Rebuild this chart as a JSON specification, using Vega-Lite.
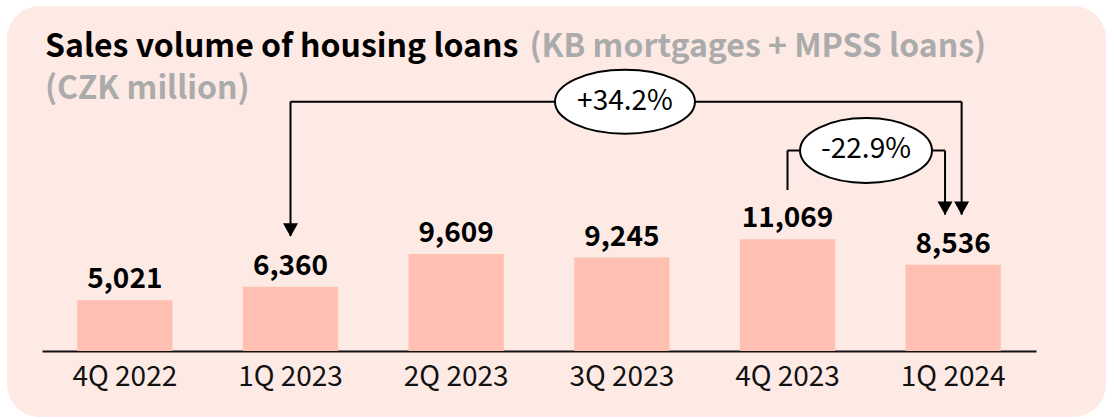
{
  "$schema": "https://vega.github.io/schema/vega-lite/v6.json",
  "width": 1099,
  "height": 411,
  "autosize": {"type": "none"},
  "padding": {"left": 7, "top": 6, "right": 8, "bottom": 2},
  "background": "white",
  "config": {
    "font": "Noto Sans CJK SC",
    "view": {"fill": "#FDEAE4", "stroke": null, "cornerRadius": 33}
  },
  "title": {
    "text": "Sales volume of housing loans",
    "subtitle": "(CZK million)",
    "anchor": "start",
    "frame": "group",
    "orient": "top",
    "offset": 0,
    "dx": 38,
    "dy": 100,
    "fontSize": 32,
    "fontWeight": "bold",
    "color": "#000000",
    "subtitleFontSize": 32,
    "subtitleFontWeight": "bold",
    "subtitleColor": "#ABABAB",
    "subtitlePadding": 10
  },
  "datasets": {
    "bars": [
      {"q": "4Q 2022", "v": 5021},
      {"q": "1Q 2023", "v": 6360},
      {"q": "2Q 2023", "v": 9609},
      {"q": "3Q 2023", "v": 9245},
      {"q": "4Q 2023", "v": 11069},
      {"q": "1Q 2024", "v": 8536}
    ],
    "segments": [
      {"x": 1, "x2": 1, "y": 24680, "y2": 11400},
      {"x": 1, "x2": 5.051, "y": 24680, "y2": 24680},
      {"x": 5.051, "x2": 5.051, "y": 24680, "y2": 13500},
      {"x": 4, "x2": 4, "y": 15939, "y2": 19850},
      {"x": 4, "x2": 4.951, "y": 19850, "y2": 19850},
      {"x": 4.951, "x2": 4.951, "y": 19850, "y2": 13500}
    ],
    "arrows": [
      {"x": 1, "y": 11316},
      {"x": 4.951, "y": 13464},
      {"x": 5.051, "y": 13464}
    ],
    "bubbles": [
      {"id": "a", "x": 3.019, "y": 24680, "label": "+34.2%"},
      {"id": "b", "x": 4.474, "y": 19850, "label": "-22.9%"}
    ]
  },
  "resolve": {"scale": {"x": "independent", "y": "independent"}, "axis": {"x": "independent", "y": "independent"}},
  "layer": [
    {
      "data": {"name": "bars"},
      "encoding": {
        "x": {
          "field": "q",
          "type": "nominal",
          "sort": null,
          "scale": {"range": [35, 1029], "paddingInner": 0.425, "paddingOuter": 0.2125},
          "axis": {
            "title": null,
            "orient": "bottom",
            "offset": -66,
            "domainColor": "#111111",
            "domainWidth": 2,
            "ticks": false,
            "labelAngle": 0,
            "labelFontSize": 28,
            "labelColor": "#111111",
            "labelPadding": 12,
            "grid": false
          }
        },
        "y": {
          "field": "v",
          "type": "quantitative",
          "scale": {"domain": [-6534, 34155], "nice": false, "zero": false},
          "axis": {
            "orient": "left",
            "title": "(KB mortgages + MPSS loans)",
            "titleAngle": 0,
            "titleAlign": "left",
            "titleBaseline": "alphabetic",
            "titleX": 522,
            "titleY": 50,
            "titleFontSize": 32,
            "titleFontWeight": "bold",
            "titleColor": "#ABABAB",
            "domain": false,
            "ticks": false,
            "labels": false,
            "grid": false
          }
        }
      },
      "layer": [
        {"mark": {"type": "bar", "color": "#FFBFB1"}, "encoding": {"y2": {"datum": 0}}},
        {
          "mark": {"type": "text", "baseline": "alphabetic", "dy": -12, "fontSize": 28, "fontWeight": "bold", "color": "#000000"},
          "encoding": {"text": {"field": "v", "type": "quantitative", "format": ",d"}}
        }
      ]
    },
    {
      "layer": [
        {
          "data": {"name": "segments"},
          "mark": {"type": "rule", "color": "#000000", "strokeWidth": 2},
          "encoding": {
            "x": {"field": "x", "type": "quantitative", "scale": {"domain": [-0.5, 5.5], "range": [35, 1029], "nice": false, "zero": false}, "axis": null},
            "x2": {"field": "x2"},
            "y": {"field": "y", "type": "quantitative", "scale": {"domain": [-6534, 34155], "nice": false, "zero": false}, "axis": null},
            "y2": {"field": "y2"}
          }
        },
        {
          "data": {"name": "bubbles"},
          "transform": [{"filter": "datum.id === 'a'"}],
          "mark": {"type": "point", "shape": "M -1,0 A 1,0.457 0 1,1 1,0 A 1,0.457 0 1,1 -1,0 Z", "size": 19600, "filled": true, "fill": "#FFFFFF", "stroke": "#000000", "strokeWidth": 2, "opacity": 1},
          "encoding": {
            "x": {"field": "x", "type": "quantitative", "scale": {"domain": [-0.5, 5.5], "range": [35, 1029], "nice": false, "zero": false}, "axis": null},
            "y": {"field": "y", "type": "quantitative", "scale": {"domain": [-6534, 34155], "nice": false, "zero": false}, "axis": null}
          }
        },
        {
          "data": {"name": "bubbles"},
          "transform": [{"filter": "datum.id === 'b'"}],
          "mark": {"type": "point", "shape": "M -1,0 A 1,0.492 0 1,1 1,0 A 1,0.492 0 1,1 -1,0 Z", "size": 17424, "filled": true, "fill": "#FFFFFF", "stroke": "#000000", "strokeWidth": 2, "opacity": 1},
          "encoding": {
            "x": {"field": "x", "type": "quantitative", "scale": {"domain": [-0.5, 5.5], "range": [35, 1029], "nice": false, "zero": false}, "axis": null},
            "y": {"field": "y", "type": "quantitative", "scale": {"domain": [-6534, 34155], "nice": false, "zero": false}, "axis": null}
          }
        },
        {
          "data": {"name": "bubbles"},
          "mark": {"type": "text", "baseline": "middle", "align": "center", "fontSize": 28, "color": "#000000"},
          "encoding": {
            "x": {"field": "x", "type": "quantitative", "scale": {"domain": [-0.5, 5.5], "range": [35, 1029], "nice": false, "zero": false}, "axis": null},
            "y": {"field": "y", "type": "quantitative", "scale": {"domain": [-6534, 34155], "nice": false, "zero": false}, "axis": null},
            "text": {"field": "label"}
          }
        },
        {
          "data": {"name": "arrows"},
          "mark": {"type": "point", "shape": "M -1,-1.8 L 1,-1.8 L 0,0 Z", "size": 225, "filled": true, "fill": "#000000", "stroke": null, "opacity": 1},
          "encoding": {
            "x": {"field": "x", "type": "quantitative", "scale": {"domain": [-0.5, 5.5], "range": [35, 1029], "nice": false, "zero": false}, "axis": null},
            "y": {"field": "y", "type": "quantitative", "scale": {"domain": [-6534, 34155], "nice": false, "zero": false}, "axis": null}
          }
        }
      ]
    }
  ]
}
